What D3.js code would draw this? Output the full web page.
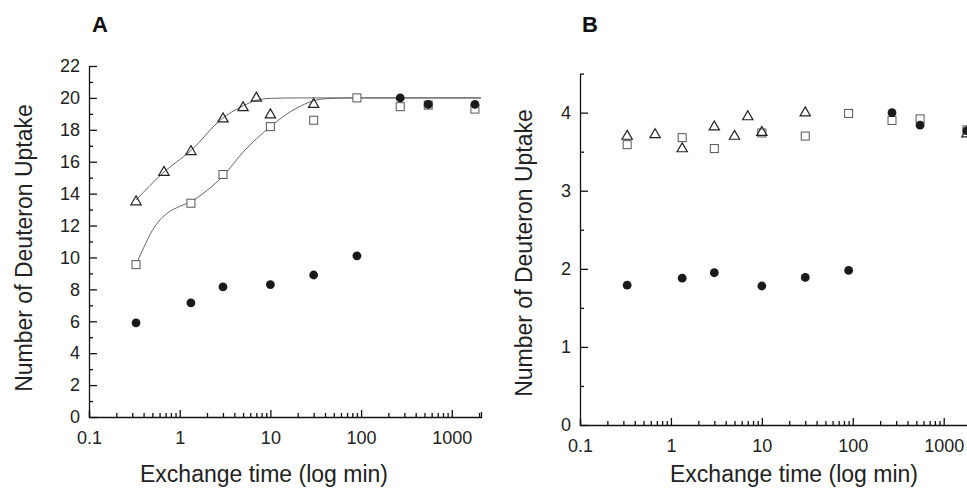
<!DOCTYPE html>
<html>
<head>
<meta charset="utf-8">
<script src="https://cdn.jsdelivr.net/npm/d3@7"></script>
<style>
  html, body { margin: 0; padding: 0; background: #fff; }
  svg { display: block; font-family: "Liberation Sans", Arial, Helvetica, sans-serif; }
  .axis path, .axis line { stroke: #111; stroke-width: 1.3; }
  .axis text { fill: #222; font-size: 18px; }
</style>
</head>
<body>
<div id="chart"></div>
<script>
  // ---- data (time in min, uptake in deuterons) ----
  const xMajorTicks = [0.1, 1, 10, 100, 1000];
  const xTickLabels = ["0.1", "1", "10", "100", "1000"];

  // panel A
  const triTimesA = [0.33, 0.67, 1.33, 3, 5, 7, 10, 30];
  const triValuesA = [13.55, 15.4, 16.7, 18.75, 19.45, 20.05, 19.0, 19.65];
  const sqTimesA = [0.33, 1.33, 3, 10, 30, 90, 270, 550, 1800];
  const sqValuesA = [9.55, 13.4, 15.2, 18.2, 18.6, 20.0, 19.45, 19.55, 19.3];
  const dotTimesA = [0.33, 1.33, 3, 10, 30, 90, 270, 550, 1800];
  const dotValuesA = [5.9, 7.15, 8.15, 8.3, 8.9, 10.1, 20.0, 19.6, 19.6];
  // fitted curves in panel A
  const triFitTimes = [0.33, 0.67, 1.33, 3, 5, 7, 10, 20, 2100];
  const triFitValues = [13.6, 15.35, 16.7, 18.75, 19.5, 19.85, 19.97, 20, 20];
  const sqFitTimes = [0.33, 0.4, 0.5, 0.7, 1, 1.33, 2, 3, 5, 10, 20, 40, 80, 2100];
  const sqFitValues = [9.55, 10.6, 11.7, 12.7, 13.2, 13.5, 14.2, 15.1, 16.6, 18.2, 19.4, 19.95, 20, 20];

  // panel B
  const triTimesB = [0.33, 0.67, 1.33, 3, 5, 7, 10, 30, 1800];
  const triValuesB = [3.71, 3.73, 3.55, 3.83, 3.71, 3.96, 3.76, 4.01, 3.74];
  const sqTimesB = [0.33, 1.33, 3, 10, 30, 90, 270, 550, 1800];
  const sqValuesB = [3.59, 3.68, 3.54, 3.74, 3.70, 3.99, 3.90, 3.92, 3.78];
  const dotTimesB = [0.33, 1.33, 3, 10, 30, 90, 270, 550, 1800];
  const dotValuesB = [1.79, 1.88, 1.95, 1.78, 1.89, 1.98, 4.0, 3.84, 3.77];

  const W = 967, H = 493;
  const svg = d3.select("#chart").append("svg")
    .attr("width", W).attr("height", H);

  const zip = (xs, ys) => xs.map((x, i) => [x, ys[i]]);

  function minorTicks(x) {
    const out = [];
    for (let d = 0.1; d < 2000; d *= 10) {
      for (let k = 2; k <= 9; k++) {
        const v = d * k;
        if (v <= x.domain()[1]) out.push(v);
      }
    }
    return out;
  }

  function drawPanel(cfg) {
    const { x, y, yMajor, yMinor, letter, letterX, labelX, labelY, labelCx } = cfg;
    const g = svg.append("g");
    const y0 = y.range()[0];
    const x0 = x.range()[0];

    // minor ticks first
    g.append("g").attr("class", "axis")
      .attr("transform", `translate(0,${y0})`)
      .call(d3.axisBottom(x).tickValues(minorTicks(x)).tickSize(-4).tickSizeOuter(0).tickFormat(""))
      .call(s => s.select(".domain").remove());
    g.append("g").attr("class", "axis")
      .attr("transform", `translate(${x0},0)`)
      .call(d3.axisLeft(y).tickValues(yMinor).tickSize(-4).tickSizeOuter(0).tickFormat(""))
      .call(s => s.select(".domain").remove());

    // major axes
    g.append("g").attr("class", "axis")
      .attr("transform", `translate(0,${y0})`)
      .call(d3.axisBottom(x).tickValues(xMajorTicks).tickSize(-7).tickSizeOuter(-5)
        .tickPadding(10).tickFormat((d, i) => xTickLabels[i]))
      .call(s => s.selectAll("text").attr("dy", "0.95em"));
    g.append("g").attr("class", "axis")
      .attr("transform", `translate(${x0},0)`)
      .call(d3.axisLeft(y).tickValues(yMajor).tickSize(-8).tickSizeOuter(0).tickPadding(9)
        .tickFormat(d3.format("d")));

    // titles
    g.append("text").attr("x", letterX).attr("y", 32)
      .attr("font-size", 22).attr("font-weight", "bold").attr("fill", "#111")
      .text(letter);
    g.append("text")
      .attr("transform", `translate(${labelY},${cfg.labelCy}) rotate(-90)`)
      .attr("text-anchor", "middle").attr("font-size", 23).attr("fill", "#222")
      .text("Number of Deuteron Uptake");
    g.append("text").attr("x", labelCx).attr("y", 482)
      .attr("text-anchor", "middle").attr("font-size", 23).attr("fill", "#222")
      .text("Exchange time (log min)");

    // fitted curves
    const line = d3.line().x(d => x(d[0])).y(d => y(d[1])).curve(d3.curveMonotoneX);
    (cfg.fits || []).forEach(f => {
      g.append("path").attr("d", line(f)).attr("fill", "none")
        .attr("stroke", "#666").attr("stroke-width", 1);
    });

    // squares
    const s = cfg.sqSize;
    g.selectAll(".sq").data(cfg.squares).join("rect")
      .attr("x", d => x(d[0]) - s / 2).attr("y", d => y(d[1]) - s / 2)
      .attr("width", s).attr("height", s)
      .attr("fill", "#fff").attr("stroke", "#555").attr("stroke-width", 1);

    // triangles
    const tri = d3.symbol().type(d3.symbolTriangle).size(cfg.triArea);
    g.selectAll(".tri").data(cfg.triangles).join("path")
      .attr("d", tri)
      .attr("transform", d => `translate(${x(d[0])},${y(d[1]) + 1})`)
      .attr("fill", "none").attr("stroke", "#222").attr("stroke-width", 1.2);

    // filled circles
    g.selectAll(".dot").data(cfg.dots).join("circle")
      .attr("cx", d => x(d[0])).attr("cy", d => y(d[1])).attr("r", 4.4)
      .attr("fill", "#1a1a1a");
  }

  // panel A
  const xA = d3.scaleLog().domain([0.1, 2100]).range([89, 481]);
  const yA = d3.scaleLinear().domain([0, 22]).range([417, 66]);
  drawPanel({
    x: xA, y: yA,
    yMajor: d3.range(0, 23, 2), yMinor: d3.range(1, 22, 2),
    letter: "A", letterX: 92, labelY: 32, labelCy: 248, labelCx: 264,
    fits: [zip(triFitTimes, triFitValues), zip(sqFitTimes, sqFitValues)],
    squares: zip(sqTimesA, sqValuesA), triangles: zip(triTimesA, triValuesA),
    dots: zip(dotTimesA, dotValuesA), sqSize: 8, triArea: 46
  });

  // panel B
  const xB = d3.scaleLog().domain([0.1, 2100]).range([580, 973]);
  const yB = d3.scaleLinear().domain([0, 4.5]).range([425, 73.6]);
  drawPanel({
    x: xB, y: yB,
    yMajor: [0, 1, 2, 3, 4], yMinor: [0.5, 1.5, 2.5, 3.5, 4.5],
    letter: "B", letterX: 582, labelY: 532, labelCy: 253, labelCx: 794,
    squares: zip(sqTimesB, sqValuesB), triangles: zip(triTimesB, triValuesB),
    dots: zip(dotTimesB, dotValuesB), sqSize: 8, triArea: 46
  });
</script>
</body>
</html>
